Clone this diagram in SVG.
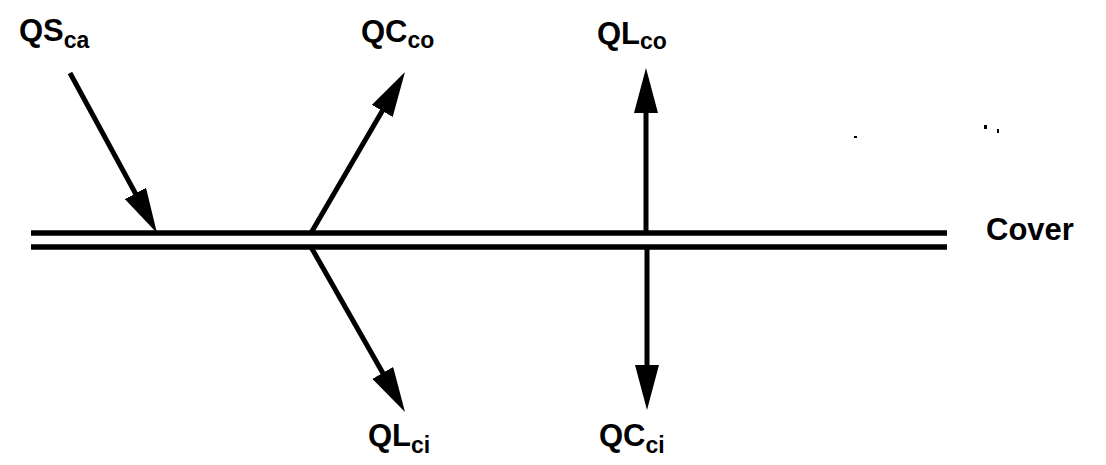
<svg xmlns="http://www.w3.org/2000/svg" width="1106" height="465" viewBox="0 0 1106 465">
<style>
  .lbl { font-family: "Liberation Sans", Arial, sans-serif; font-weight: bold; font-size: 31px; fill: #000; }
  .sub { font-size: 23px; }
  .cover { stroke: #000; stroke-width: 5.5; fill: none; }
  .arr { stroke: #000; stroke-width: 5; fill: none; marker-end: url(#ah); }
</style>
<defs>
  <marker id="ah" viewBox="0 0 45 24" markerWidth="45" markerHeight="24" refX="25" refY="12" markerUnits="userSpaceOnUse" orient="auto">
    <path d="M0,0 L45,12 L0,24 z" fill="#000"/>
  </marker>
</defs>
<rect width="1106" height="465" fill="#fff"/>
<g id="cover">
  <line class="cover" x1="31" y1="233" x2="947" y2="233"/>
  <line class="cover" x1="31" y1="247" x2="947" y2="247"/>
  <text class="lbl" x="986" y="240">Cover</text>
</g>
<g id="connectors">
  <line class="arr" x1="70" y1="73" x2="147.4" y2="215.4"/>
  <line class="arr" x1="311" y1="233" x2="394.9" y2="89.3"/>
  <line class="arr" x1="646" y1="233" x2="646" y2="88"/>
  <line class="arr" x1="647" y1="247" x2="647" y2="390"/>
  <line class="arr" x1="311" y1="247" x2="395.1" y2="394.6"/>
</g>
<g id="QSca"><text class="lbl" x="19" y="41">QS<tspan class="sub" dy="7">ca</tspan></text></g>
<g id="QCco"><text class="lbl" x="361" y="42">QC<tspan class="sub" dy="6">co</tspan></text></g>
<g id="QLco"><text class="lbl" x="597" y="44">QL<tspan class="sub" dy="5">co</tspan></text></g>
<g id="QLci"><text class="lbl" x="368" y="446">QL<tspan class="sub" dy="7">ci</tspan></text></g>
<g id="QCci"><text class="lbl" x="599" y="446">QC<tspan class="sub" dy="7">ci</tspan></text></g>
<g id="specks" fill="#000">
  <rect x="854" y="136" width="3" height="2"/>
  <rect x="984" y="125" width="3" height="4"/>
  <rect x="997" y="129" width="2" height="4"/>
</g>
</svg>
